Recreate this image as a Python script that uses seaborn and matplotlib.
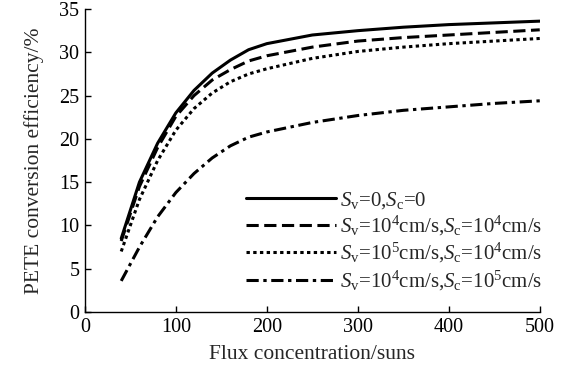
import matplotlib
matplotlib.use("Agg")
import matplotlib.pyplot as plt
import seaborn as sns
import pandas as pd

flux = [40, 60, 80, 100, 120, 140, 160, 180, 200, 250, 300, 350, 400, 450, 500]
eff_s0 = [8.5, 15.0, 19.5, 23.0, 25.6, 27.6, 29.1, 30.3, 31.0, 32.0, 32.5, 32.9, 33.2, 33.4, 33.6]
eff_s44 = [8.2, 14.5, 19.0, 22.6, 25.0, 26.8, 28.0, 29.0, 29.6, 30.6, 31.3, 31.7, 32.0, 32.3, 32.6]
eff_s54 = [7.0, 13.0, 17.5, 21.0, 23.5, 25.3, 26.6, 27.5, 28.1, 29.3, 30.1, 30.6, 31.0, 31.3, 31.6]
eff_s45 = [3.6, 7.5, 11.0, 13.8, 16.0, 17.8, 19.2, 20.2, 20.8, 21.9, 22.7, 23.3, 23.7, 24.1, 24.4]
labels = [r"$S_\mathrm{v}$=0,$S_\mathrm{c}$=0",
          r"$S_\mathrm{v}$=10$^4$cm/s,$S_\mathrm{c}$=10$^4$cm/s",
          r"$S_\mathrm{v}$=10$^5$cm/s,$S_\mathrm{c}$=10$^4$cm/s",
          r"$S_\mathrm{v}$=10$^4$cm/s,$S_\mathrm{c}$=10$^5$cm/s"]

sns.set_theme(style="ticks")
plt.rcParams["font.family"] = ["Liberation Serif", "DejaVu Serif"]
plt.rcParams["mathtext.fontset"] = "custom"
plt.rcParams["mathtext.rm"] = "Liberation Serif"
plt.rcParams["mathtext.it"] = "Liberation Serif:italic"

fig = plt.figure(figsize=(5.81, 3.76), dpi=100)
ax = fig.add_axes([0.146, 0.170, 0.783, 0.806])

styles = ["-", (0, (4.0, 1.8)), (0, (1.1, 1.1)), (0, (4.0, 1.5, 1.1, 1.5))]
for vals, lab, ls in zip([eff_s0, eff_s44, eff_s54, eff_s45], labels, styles):
    df = pd.DataFrame({"x": flux, "y": vals})
    sns.lineplot(data=df, x="x", y="y", ax=ax, color="black", linestyle=ls,
                 linewidth=2.2, label=lab)

ax.set_xlim(0, 500)
ax.set_ylim(0, 35)
ax.set_xticks(range(0, 501, 100))
ax.set_yticks(range(0, 36, 5))
ax.tick_params(direction="in", length=4, width=1, labelsize=14.5, colors="black", pad=4)
for s in ["top", "right"]:
    ax.spines[s].set_visible(False)
for s in ["left", "bottom"]:
    ax.spines[s].set_color("black")
    ax.spines[s].set_linewidth(1.0)
ax.set_xlabel("Flux concentration/suns", fontsize=15.5, labelpad=6)
ax.set_ylabel("PETE conversion efficiency/%", fontsize=15.5, labelpad=11)

leg = ax.legend(loc="upper left", bbox_to_anchor=(246/581, 1 - 190/376),
                bbox_transform=fig.transFigure, frameon=False, fontsize=15,
                handlelength=4.3, handletextpad=0.2, labelspacing=0.15,
                borderpad=0, borderaxespad=0)

fig.savefig("out.png", dpi=100)
